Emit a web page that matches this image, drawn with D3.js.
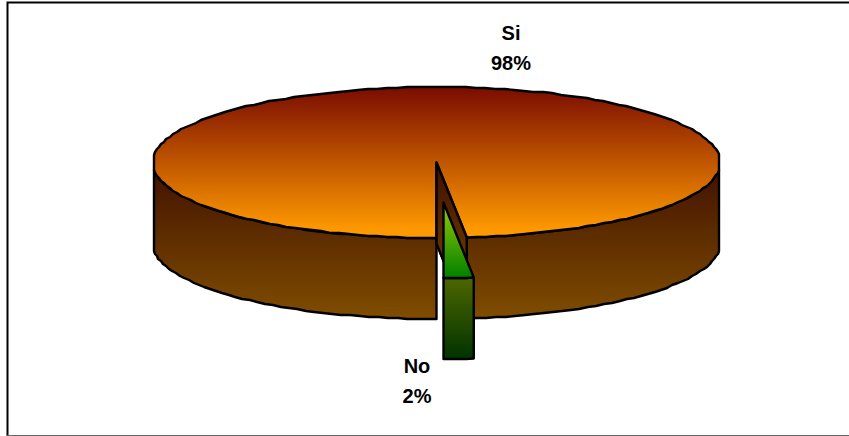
<!DOCTYPE html>
<html>
<head>
<style>
  body {
    margin: 0;
    background-color: #fff;
  }
  text {
    font-family: "Liberation Sans", Arial, sans-serif;
    font-weight: bold;
    font-size: 20px;
    text-anchor: middle;
  }
</style>
  <script src="https://d3js.org/d3.v7.min.js"></script>
</head>
<body>
<script>
const categories = ['Si', 'No'];
const shares = [98.3, 1.7];

const svg = d3.select('body')
  .append('svg')
  .attr('width', 849)
  .attr('height', 436)
  .style('display', 'block');

// page frame
svg.append('path')
  .attr('d', 'M7.5,436V2.5H849')
  .attr('fill', 'none')
  .attr('stroke', '#000')
  .attr('stroke-width', 2);
svg.append('path')
  .attr('d', 'M7,435.5H849')
  .attr('fill', 'none')
  .attr('stroke', '#666')
  .attr('stroke-width', 1);

// unit circle -> tilted disc on the page
// clamped a little inside +-1 so the far ends of the rim go straight up and down, as in the original
const xScale = d3.scaleLinear().domain([-0.995, 0.995]).range([154, 719]).clamp(true);
const yScale = d3.scaleLinear().domain([-1, 1]).range([238, 87]);
const depth = 81;
const explode = { x: 7, y: 40 };
const wallOverlap = 0.1;

const slices = d3.pie().sort(null).startAngle(Math.PI).endAngle(3 * Math.PI)(shares);

// the original outline is a coarse polygon, so snap the points to the pixel grid
const rim = (a, dx = 0, dy = 0) => [
  xScale(Math.sin(a)) + dx,
  yScale(Math.cos(a)) + dy,
];

const rimPoints = (a0, a1, dx = 0, dy = 0) => {
  const n = Math.max(1, Math.ceil(Math.abs(a1 - a0) / 0.035));
  return d3.range(n + 1).map(i => {
    const p = rim(a0 + (a1 - a0) * i / n, dx, dy);
    return i === 0 || i === n ? p : [Math.round(p[0]), Math.round(p[1])];
  });
};

const line = d3.line();

const defs = svg.append('defs');
const gradient = (id, y0, y1, c0, c1) => {
  const g = defs.append('linearGradient')
    .attr('id', id)
    .attr('gradientUnits', 'userSpaceOnUse')
    .attr('x1', 0).attr('x2', 0)
    .attr('y1', y0).attr('y2', y1);
  g.append('stop').attr('offset', 0).attr('stop-color', c0);
  g.append('stop').attr('offset', 1).attr('stop-color', c1);
};

const cy = yScale(0);
gradient('siTop', yScale(1), yScale(-1) - 8, '#7a0c00', '#ff9900');
gradient('siWall', cy, yScale(-1) + depth, '#3f1000', '#804d00');
gradient('noTop', yScale(0) + explode.y, yScale(-1) + explode.y, '#99cc00', '#008000');
gradient('noWall', yScale(-1) + explode.y, yScale(-1) + explode.y + depth, '#4d6600', '#003300');

const face = (points, fill) => svg.append('path')
  .attr('d', line(points) + 'Z')
  .attr('fill', fill)
  .attr('stroke', '#000')
  .attr('stroke-width', 2.4)
  .attr('stroke-linejoin', 'round');

const si = slices[0];
const no = slices[1];
const centre = [d3.mean(xScale.range()), yScale(0)];

const down = (pts, d) => pts.map(p => [p[0], p[1] + d]).reverse();

// Si: cut wall seen through the gap
const cut = rim(si.endAngle);
face([centre, cut, [cut[0], cut[1] + depth], [centre[0], centre[1] + depth]], 'url(#siWall)');

// Si: front wall, either side of the gap
const left = rimPoints(si.startAngle, 1.5 * Math.PI - wallOverlap);
face([...left, ...down(left, depth)], 'url(#siWall)');
const right = rimPoints(2.5 * Math.PI + wallOverlap, si.endAngle);
face([...right, ...down(right, depth)], 'url(#siWall)');

// Si: top surface, open where the No slice was
const siRim = rimPoints(si.startAngle, si.endAngle);
const siTop = svg.append('path')
  .attr('d', line([centre, ...siRim]) + 'Z')
  .attr('fill', 'url(#siTop)')
  .attr('stroke', '#000')
  .attr('stroke-width', 2.4)
  .attr('stroke-linejoin', 'round');

// cut wall again so its upper part sits in the opening of the top surface
face([centre, cut, [cut[0], cut[1] + depth], [centre[0], centre[1] + depth]], 'url(#siWall)');

// No: exploded slice
const noCentre = [centre[0] + explode.x, centre[1] + explode.y];
const noRim = rimPoints(no.startAngle, no.endAngle, explode.x, explode.y);
face([...noRim, ...down(noRim, depth)], 'url(#noWall)');
face([noCentre, ...noRim], 'url(#noTop)');

// labels
const labelPos = [[511, 40], [417, 373]];
slices.forEach((s, i) => {
  const label = svg.append('text')
    .attr('x', labelPos[i][0])
    .attr('y', labelPos[i][1]);
  label.append('tspan').attr('x', labelPos[i][0]).text(categories[i]);
  label.append('tspan')
    .attr('x', labelPos[i][0])
    .attr('dy', 30)
    .text(d3.format('.0%')(s.value / 100));
});
</script>
</body>
</html>
